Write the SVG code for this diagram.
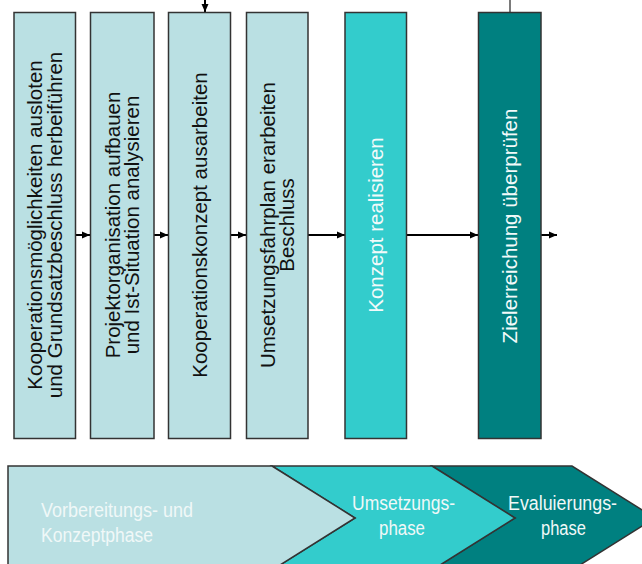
<svg xmlns="http://www.w3.org/2000/svg" width="642" height="564" viewBox="0 0 642 564">
<style>
  .box{stroke:#333;stroke-width:1.5}
  .light{fill:#bae0e3}
  .mid{fill:#33cccc}
  .dark{fill:#008080}
  .t{font-family:"Liberation Sans",Arial,sans-serif;font-size:20.5px;text-anchor:middle;fill:#111}
  .tw{fill:#f2fafa}
  .p{font-family:"Liberation Sans Narrow","Liberation Sans",Arial,sans-serif;font-size:20px;fill:#f0f8f8}
  .conn{stroke:#000;stroke-width:2;fill:none}
</style>
<defs>
  <marker id="ah" viewBox="0 0 8 8" refX="8" refY="4" markerWidth="8" markerHeight="8" markerUnits="userSpaceOnUse" orient="auto">
    <path d="M0,0.5 L8,4 L0,7.5 Z" fill="#000"/>
  </marker>
</defs>
<rect width="642" height="564" fill="#fff"/>

<g id="connectors">
  <line class="conn" x1="75" y1="235" x2="90" y2="235" marker-end="url(#ah)"/>
  <line class="conn" x1="154" y1="235" x2="168" y2="235" marker-end="url(#ah)"/>
  <line class="conn" x1="230" y1="235" x2="246" y2="235" marker-end="url(#ah)"/>
  <line class="conn" x1="308" y1="235" x2="345" y2="235" marker-end="url(#ah)"/>
  <line class="conn" x1="407" y1="235" x2="478" y2="235" marker-end="url(#ah)"/>
  <line class="conn" x1="541" y1="235" x2="557" y2="235" marker-end="url(#ah)"/>
  <line class="conn" x1="205" y1="0" x2="205" y2="12" marker-end="url(#ah)"/>
  <line x1="510" y1="0" x2="510" y2="12" stroke="#222" stroke-width="1.2"/>
</g>

<g id="box1">
  <rect class="box light" x="14" y="12.5" width="61.5" height="426"/>
  <text class="t" transform="translate(44.5,225) rotate(-90)"><tspan x="0" y="-2.5">Kooperationsmöglichkeiten ausloten</tspan><tspan x="0" y="17">und Grundsatzbeschluss herbeiführen</tspan></text>
</g>
<g id="box2">
  <rect class="box light" x="90.5" y="12.5" width="63.5" height="426"/>
  <text class="t" transform="translate(122,225) rotate(-90)"><tspan x="0" y="-2.5">Projektorganisation aufbauen</tspan><tspan x="0" y="17">und Ist-Situation analysieren</tspan></text>
</g>
<g id="box3">
  <rect class="box light" x="168.5" y="12.5" width="62" height="426"/>
  <text class="t" transform="translate(199.5,225) rotate(-90)"><tspan x="0" y="7">Kooperationskonzept ausarbeiten</tspan></text>
</g>
<g id="box4">
  <rect class="box light" x="246.5" y="12.5" width="61.5" height="426"/>
  <text class="t" transform="translate(277,225) rotate(-90)"><tspan x="0" y="-2.5">Umsetzungsfahrplan erarbeiten</tspan><tspan x="0" y="17">Beschluss</tspan></text>
</g>
<g id="box5">
  <rect class="box mid" x="345" y="12.5" width="61.5" height="426"/>
  <text class="t tw" transform="translate(376,225) rotate(-90)"><tspan x="0" y="7">Konzept realisieren</tspan></text>
</g>
<g id="box6">
  <rect class="box dark" x="478.5" y="12.5" width="62.5" height="426"/>
  <text class="t tw" transform="translate(510,226) rotate(-90)"><tspan x="0" y="7">Zielerreichung überprüfen</tspan></text>
</g>

<g id="phase3">
  <polygon class="box dark" points="432,466 572,466 655,518 572,570 432,570 515,518"/>
  <text class="p" x="508" y="510" textLength="109" lengthAdjust="spacingAndGlyphs">Evaluierungs-</text>
  <text class="p" x="541" y="535" textLength="45" lengthAdjust="spacingAndGlyphs">phase</text>
</g>
<g id="phase2">
  <polygon class="box mid" points="272,466 432,466 515,518 432,570 272,570 355,518"/>
  <text class="p" x="352" y="510" textLength="103" lengthAdjust="spacingAndGlyphs">Umsetzungs-</text>
  <text class="p" x="379" y="535" textLength="46" lengthAdjust="spacingAndGlyphs">phase</text>
</g>
<g id="phase1">
  <polygon class="box light" points="8,466 272,466 355,518 272,570 8,570"/>
  <text class="p" x="41" y="517" textLength="152" lengthAdjust="spacingAndGlyphs">Vorbereitungs- und</text>
  <text class="p" x="41" y="542" textLength="112" lengthAdjust="spacingAndGlyphs">Konzeptphase</text>
</g>
</svg>
